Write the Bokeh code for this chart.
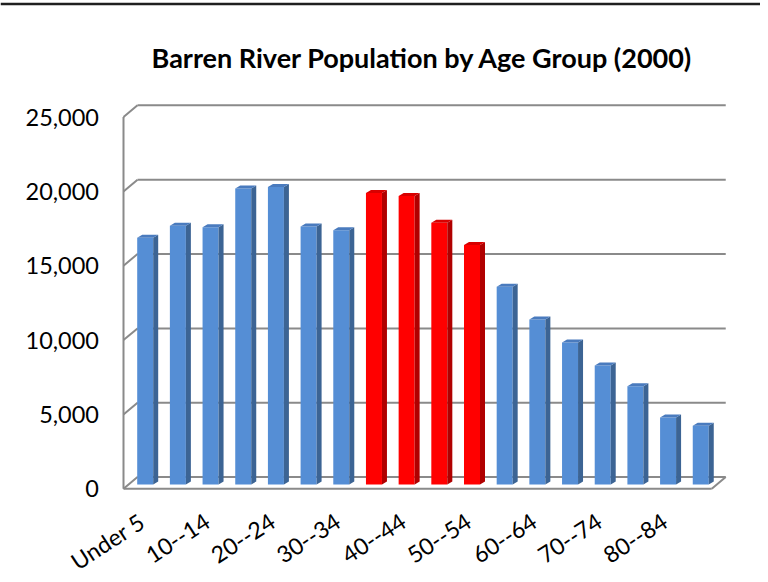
from bokeh.plotting import figure
from bokeh.models import Range1d
from bokeh.core.properties import value
from bokeh.embed import file_html
from bokeh.resources import INLINE
import math

# ---------------- data ----------------
categories = ["Under 5", "5--9", "10--14", "15--19", "20--24", "25--29", "30--34",
              "35--39", "40--44", "45--49", "50--54", "55--59", "60--64", "65--69",
              "70--74", "75--79", "80--84", "85+"]
population = [16600, 17400, 17300, 19900, 20000, 17350, 17100,
              19600, 19400, 17600, 16100, 13300, 11100, 9550,
              8000, 6600, 4500, 3950]
highlighted = ["35--39", "40--44", "45--49", "50--54"]
y_ticks = [0, 5000, 10000, 15000, 20000, 25000]
y_tick_labels = ["0", "5,000", "10,000", "15,000", "20,000", "25,000"]
title_text = "Barren River Population by Age Group (2000)"

# ---------------- geometry (pixel <-> data) ----------------
PX = 32.68      # px per category
PY = 0.01487    # px per person
def dx(px): return px / PX
def dy(px): return px / PY

W, H = 760, 574            # figure size
X0, Y0 = 123, 488.3        # px of data origin (front-left floor corner)

p = figure(width=W, height=H, output_backend="svg", toolbar_location=None,
           x_range=Range1d(-X0 / PX, (W - X0) / PX),
           y_range=Range1d((Y0 - H) / PY, Y0 / PY),
           min_border_left=0, min_border_right=0,
           min_border_top=0, min_border_bottom=0,
           background_fill_color="white", border_fill_color="white")
p.outline_line_color = None
p.xgrid.visible = False
p.ygrid.visible = False
p.xaxis.visible = False
p.yaxis.visible = False

n = len(categories)
WDX, WDY = dx(14), dy(11.7)
wall_color = "#8a8a8a"

# top border rule
p.quad(left=[-X0 / PX], right=[(W - X0) / PX],
       bottom=[(Y0 - 4.7) / PY], top=[(Y0 - 2.2) / PY],
       fill_color="#1f1f1f", line_color=None)

# walls / gridlines
p.segment(x0=[0] * len(y_ticks), y0=y_ticks, x1=[WDX] * len(y_ticks),
          y1=[t + WDY for t in y_ticks], line_color=wall_color, line_width=2)
p.segment(x0=[WDX] * len(y_ticks), y0=[t + WDY for t in y_ticks],
          x1=[n + WDX] * len(y_ticks), y1=[t + WDY for t in y_ticks],
          line_color=wall_color, line_width=2)
p.segment(x0=[0], y0=[0], x1=[0], y1=[y_ticks[-1]], line_color=wall_color, line_width=2)
p.segment(x0=[0], y0=[0], x1=[n], y1=[0], line_color=wall_color, line_width=2)
p.segment(x0=[n], y0=[0], x1=[n + WDX], y1=[WDY], line_color=wall_color, line_width=2)

# bars
blue = ("#558ED5", "#3C6494", "#4A7BBE")
red = ("#FF0000", "#B00000", "#D80000")
off, bw, base = dx(13.7), dx(16), dy(4.3)
sdx, sdy = dx(5), dy(3)
lefts = [i + off for i in range(n)]
rights = [l + bw for l in lefts]
tops = [base + v for v in population]
pal = [red if c in highlighted else blue for c in categories]

p.quad(left=lefts, right=rights, bottom=[base] * n, top=tops,
       fill_color=[c[0] for c in pal], line_color=None)
p.patches(xs=[[r, r + sdx, r + sdx, r] for r in rights],
          ys=[[base, base + sdy, t + sdy, t] for t in tops],
          fill_color=[c[1] for c in pal], line_color=None)
p.patches(xs=[[l, r, r + sdx, l + sdx] for l, r in zip(lefts, rights)],
          ys=[[t, t, t + sdy, t + sdy] for t in tops],
          fill_color=[c[2] for c in pal], line_color=None)

# value-axis tick labels (front plane)
p.text(x=[dx(-24.5)] * len(y_ticks), y=y_ticks, text=y_tick_labels,
       text_align="right", text_baseline="middle",
       text_font=value("Lato"), text_font_size="23.5px", text_color="black")

# category-axis labels (every other category), rotated
shown = list(range(0, n, 2))
p.text(x=[i + 0.5 + dx(2) for i in shown], y=[dy(-30)] * len(shown),
       text=[categories[i] for i in shown], angle=math.radians(33),
       text_align="right", text_baseline="middle",
       text_font=value("Lato"), text_font_size="23px", text_color="black")

# title
p.text(x=[dx(422 - X0)], y=[dy(Y0 - 57)], text=[title_text],
       text_align="center", text_baseline="middle",
       text_font=value("Lato"), text_font_style="bold", text_font_size="27px",
       text_color="black")

open("out.html", "w").write(file_html(p, INLINE))
